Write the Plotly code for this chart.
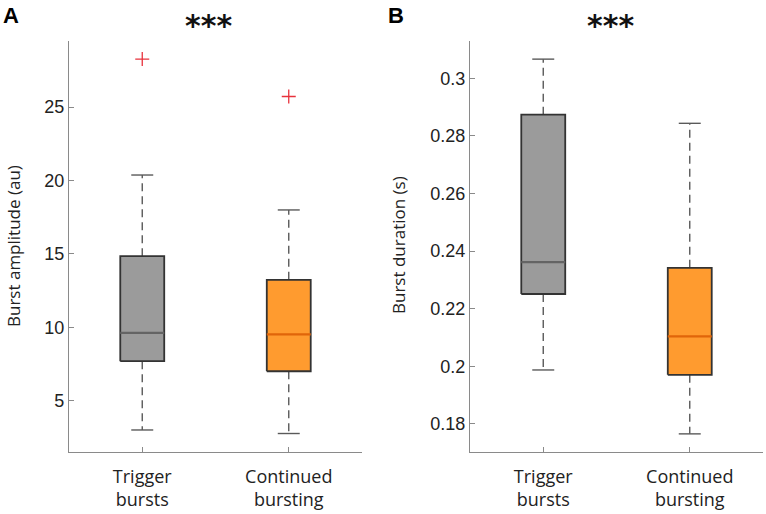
import plotly.graph_objects as go

# ---------------- data ----------------
categories = ["Trigger<br>bursts", "Continued<br>bursting"]
positions = [1, 2]

amp_q1 = [7.69, 7.0]
amp_median = [9.61, 9.52]
amp_q3 = [14.84, 13.23]
amp_lower = [3.0, 2.76]
amp_upper = [20.37, 17.99]
amp_outliers = [[28.27], [25.72]]

dur_q1 = [0.2251, 0.197]
dur_median = [0.2362, 0.2104]
dur_q3 = [0.2874, 0.2342]
dur_lower = [0.1987, 0.1765]
dur_upper = [0.3067, 0.2844]
dur_outliers = [[], []]

amp_tickvals = [5, 10, 15, 20, 25]
amp_ticktext = ["5", "10", "15", "20", "25"]
dur_tickvals = [0.18, 0.2, 0.22, 0.24, 0.26, 0.28, 0.3]
dur_ticktext = ["0.18", "0.2", "0.22", "0.24", "0.26", "0.28", "0.3"]

# ---------------- style ----------------
fills = ["#9b9b9b", "#ff9b2f"]
medcols = ["#646464", "#e0650a"]
edge = "#333333"
whisk = "#5a5a5a"
BOXW = 0.3
CAPW = 0.15

fig = go.Figure()


def add_boxes(xa, ya, q1, med, q3, lo, hi, outl):
    for i, c in enumerate(positions):
        l, r = c - BOXW / 2, c + BOXW / 2
        # whiskers (dashed)
        fig.add_trace(go.Scatter(
            x=[c, c, None, c, c], y=[q3[i], hi[i], None, q1[i], lo[i]],
            mode="lines", line=dict(color=whisk, width=1.4, dash="8px,5px"),
            xaxis=xa, yaxis=ya, showlegend=False, hoverinfo="skip"))
        # caps
        fig.add_trace(go.Scatter(
            x=[c - CAPW / 2, c + CAPW / 2, None, c - CAPW / 2, c + CAPW / 2],
            y=[hi[i], hi[i], None, lo[i], lo[i]],
            mode="lines", line=dict(color=whisk, width=1.4),
            xaxis=xa, yaxis=ya, showlegend=False, hoverinfo="skip"))
        # box
        fig.add_trace(go.Scatter(
            x=[l, r, r, l, l], y=[q1[i], q1[i], q3[i], q3[i], q1[i]],
            mode="lines", fill="toself", fillcolor=fills[i],
            line=dict(color=edge, width=1.8),
            xaxis=xa, yaxis=ya, showlegend=False, hoverinfo="skip"))
        # median
        fig.add_trace(go.Scatter(
            x=[l, r], y=[med[i], med[i]], mode="lines",
            line=dict(color=medcols[i], width=2.2),
            xaxis=xa, yaxis=ya, showlegend=False, hoverinfo="skip"))
        # outliers
        if outl[i]:
            fig.add_trace(go.Scatter(
                x=[c] * len(outl[i]), y=outl[i], mode="markers",
                marker=dict(symbol="cross-thin", size=10,
                            line=dict(color="#e8323c", width=1.3)),
                xaxis=xa, yaxis=ya, showlegend=False, hoverinfo="skip"))


add_boxes("x", "y", amp_q1, amp_median, amp_q3, amp_lower, amp_upper, amp_outliers)
add_boxes("x2", "y2", dur_q1, dur_median, dur_q3, dur_lower, dur_upper, dur_outliers)

axis_line = dict(showline=True, linecolor="#8a8a8a", linewidth=1.3,
                 showgrid=False, zeroline=False, ticks="inside",
                 ticklen=5, tickcolor="#8a8a8a", tickwidth=1.2)

tickfont = dict(family="Liberation Sans, Arial", size=18, color="#222")
catfont = dict(family="Open Sans", size=18, color="#222")

ydom = [1 - 452 / 514, 1 - 41 / 514]

fig.update_layout(
    width=766, height=514,
    margin=dict(l=0, r=0, t=0, b=0),
    paper_bgcolor="white", plot_bgcolor="white",
    xaxis=dict(domain=[69 / 766, 362 / 766], range=[0.5, 2.5],
               tickvals=positions, ticktext=categories, tickfont=catfont,
               ticklabelstandoff=8, **axis_line),
    yaxis=dict(domain=ydom, range=[1.5, 29.5], tickvals=amp_tickvals,
               ticktext=amp_ticktext, tickfont=tickfont, **axis_line),
    xaxis2=dict(domain=[470 / 766, 763 / 766], range=[0.5, 2.5], anchor="y2",
                tickvals=positions, ticktext=categories, tickfont=catfont,
                ticklabelstandoff=8, **axis_line),
    yaxis2=dict(domain=ydom, range=[0.1702, 0.313], anchor="x2",
                tickvals=dur_tickvals, ticktext=dur_ticktext,
                tickfont=tickfont, **axis_line),
)

annos = [
    dict(text="<b>A</b>", x=11 / 766, y=1 - 15 / 514,
         font=dict(family="Liberation Sans, Arial", size=22, color="black")),
    dict(text="<b>B</b>", x=396 / 766, y=1 - 15 / 514,
         font=dict(family="Liberation Sans, Arial", size=22, color="black")),
    dict(text="<b>***</b>", x=208 / 766, y=1 - 25 / 514,
         font=dict(family="DejaVu Sans", size=30, color="#111")),
    dict(text="<b>***</b>", x=610 / 766, y=1 - 25 / 514,
         font=dict(family="DejaVu Sans", size=30, color="#111")),
    dict(text="Burst amplitude (au)", x=13 / 766, y=1 - 246 / 514,
         textangle=-90, font=dict(family="Open Sans", size=17, color="#222")),
    dict(text="Burst duration (s)", x=398 / 766, y=1 - 245 / 514,
         textangle=-90, font=dict(family="Open Sans", size=17, color="#222")),
]
for a in annos:
    fig.add_annotation(xref="paper", yref="paper", showarrow=False,
                       xanchor="center", yanchor="middle", **a)

fig.write_html("out.html", config={"displayModeBar": False},
               post_script="document.body.style.margin='0';document.body.style.padding='0';")
